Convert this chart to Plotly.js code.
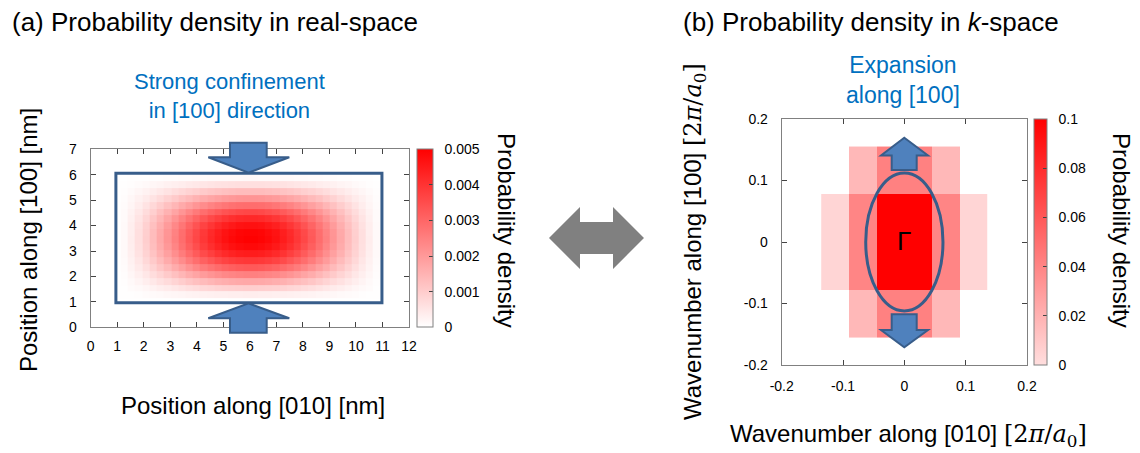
<!DOCTYPE html>
<html>
<head>
<meta charset="utf-8">
<script src="https://cdn.plot.ly/plotly-3.0.1.min.js"></script>
<style>html,body{margin:0;padding:0;background:#fff;}#chart{width:1140px;height:453px;}</style>
</head>
<body>
<div id="chart"></div>
<script>
// ---------- Panel (a): real-space probability density (values in units of 1e-5) ----------
const realX = [1.00,1.27,1.54,1.81,2.09,2.36,2.63,2.90,3.17,3.44,3.72,3.99,4.26,4.53,4.80,5.07,5.34,5.62,5.89,
               6.16,6.43,6.70,6.97,7.24,7.52,7.79,8.06,8.33,8.60,8.87,9.15,9.42,9.69,9.96,10.23,10.50,10.77,11.05];
const realY = [1.00,1.27,1.54,1.81,2.09,2.36,2.63,2.90,3.17,3.44,3.72,3.99,4.26,4.53,4.80,5.07,5.34,5.62,5.89];
const realZ_1e5 = [
 [0,0,0,0,0,0,0,0,0,0,0,0,0,0,0,0,0,0,0,0,0,0,0,0,0,0,0,0,0,0,0,0,0,0,0,0,0,0],
 [0,1,2,4,7,9,12,15,17,20,23,25,27,29,31,32,34,34,35,35,34,34,32,31,29,27,25,23,20,17,15,12,9,7,4,2,1,0],
 [0,2,7,12,18,25,33,40,48,55,62,69,76,81,86,90,93,95,96,96,95,93,90,86,81,76,69,62,55,48,40,33,25,18,12,7,2,0],
 [0,4,12,22,33,45,58,71,85,98,111,123,134,144,152,159,165,168,170,170,168,165,159,152,144,134,123,111,98,85,71,58,45,33,22,12,4,0],
 [0,6,17,32,48,66,85,104,124,143,162,179,196,210,222,233,240,246,249,249,246,240,233,222,210,196,179,162,143,124,104,85,66,48,32,17,6,0],
 [0,8,23,41,62,86,111,136,162,187,212,235,256,275,291,304,314,322,325,325,322,314,304,291,275,256,235,212,187,162,136,111,86,62,41,23,8,0],
 [0,10,27,50,76,104,134,165,196,226,256,284,309,332,352,368,380,389,393,393,389,380,368,352,332,309,284,256,226,196,165,134,104,76,50,27,10,0],
 [0,11,31,57,86,118,152,187,222,257,291,322,352,377,400,418,432,442,446,446,442,432,418,400,377,352,322,291,257,222,187,152,118,86,57,31,11,0],
 [0,12,34,61,93,128,165,202,240,278,314,348,380,408,432,451,466,477,482,482,477,466,451,432,408,380,348,314,278,240,202,165,128,93,61,34,12,0],
 [0,12,35,63,96,132,170,209,249,287,325,360,393,421,446,467,482,493,499,499,493,482,467,446,421,393,360,325,287,249,209,170,132,96,63,35,12,0],
 [0,12,34,63,95,131,168,207,246,284,322,356,389,417,442,462,477,488,493,493,488,477,462,442,417,389,356,322,284,246,207,168,131,95,63,34,12,0],
 [0,12,33,59,90,124,159,196,233,269,304,337,368,394,418,437,451,462,467,467,462,451,437,418,394,368,337,304,269,233,196,159,124,90,59,33,12,0],
 [0,10,29,53,81,112,144,177,210,243,275,304,332,356,377,394,408,417,421,421,417,408,394,377,356,332,304,275,243,210,177,144,112,81,53,29,10,0],
 [0,9,25,46,69,95,123,151,179,208,235,260,284,304,322,337,348,356,360,360,356,348,337,322,304,284,260,235,208,179,151,123,95,69,46,25,9,0],
 [0,7,20,36,55,76,98,121,143,166,187,208,226,243,257,269,278,284,287,287,284,278,269,257,243,226,208,187,166,143,121,98,76,55,36,20,7,0],
 [0,5,15,27,40,55,71,88,104,121,136,151,165,177,187,196,202,207,209,209,207,202,196,187,177,165,151,136,121,104,88,71,55,40,27,15,5,0],
 [0,3,9,17,25,35,45,55,66,76,86,95,104,112,118,124,128,131,132,132,131,128,124,118,112,104,95,86,76,66,55,45,35,25,17,9,3,0],
 [0,2,4,8,12,17,22,27,31,36,41,46,50,53,57,59,61,62,63,63,62,61,59,57,53,50,46,41,36,31,27,22,17,12,8,4,2,0],
 [0,0,1,2,2,3,4,5,6,7,8,9,10,11,11,12,12,12,13,13,12,12,12,11,11,10,9,8,7,6,5,4,3,2,2,1,0,0]
];
const realTicksX = [0,1,2,3,4,5,6,7,8,9,10,11,12];
const realTicksY = [0,1,2,3,4,5,6,7];
const realCbTicks = [0,0.001,0.002,0.003,0.004,0.005];
const realCbText = ['0','0.001','0.002','0.003','0.004','0.005'];

// ---------- Panel (b): k-space probability density ----------
const kX = [-0.113,-0.0679,-0.0226,0.0226,0.0679,0.113];
const kY = [-0.1164,-0.0388,0.0388,0.1164];
const kZ = [
 [null,0.017,0.042,0.042,0.017,null],
 [0.004,0.040,0.100,0.100,0.040,0.004],
 [0.004,0.040,0.100,0.100,0.040,0.004],
 [null,0.017,0.042,0.042,0.017,null]
];
const kTickVals = [-0.2,-0.1,0,0.1,0.2];
const kTickText = ['-0.2','-0.1','0','0.1','0.2'];
const kCbTicks = [0,0.02,0.04,0.06,0.08,0.1];
const kCbText = ['0','0.02','0.04','0.06','0.08','0.1'];

// ---------- helpers ----------
const W = 1140, H = 453;
const px = v => v / W;
const py = v => 1 - v / H;
const FONT = 'Liberation Sans, Arial, sans-serif';
const PAD = '\u00a0\u00a0';
const pathPx = pts => 'M' + pts.map(p => px(p[0]).toFixed(5) + ',' + py(p[1]).toFixed(5)).join(' L') + ' Z';

const realZ = realZ_1e5.map(r => r.map(v => v * 1e-5));

const traces = [
  {
    type: 'heatmap', x: realX, y: realY, z: realZ, xaxis: 'x', yaxis: 'y',
    zmin: 0, zmax: 0.005, zsmooth: false,
    colorscale: [[0, 'rgb(255,255,255)'], [1, 'rgb(255,0,0)']],
    colorbar: {
      x: px(417), xanchor: 'left', xpad: 0, y: py(238.3), yanchor: 'middle', ypad: 0,
      thickness: 16, len: 178, lenmode: 'pixels',
      outlinecolor: '#808080', outlinewidth: 1,
      tickmode: 'array', tickvals: realCbTicks, ticktext: realCbText.map(t => PAD + t),
      ticks: 'inside', ticklen: 4, tickcolor: '#444',
      tickfont: {family: FONT, size: 14, color: '#000'}
    },
    hoverinfo: 'skip'
  },
  {
    type: 'heatmap', x: kX, y: kY, z: kZ, xaxis: 'x2', yaxis: 'y2',
    zmin: 0, zmax: 0.1, zsmooth: false,
    colorscale: [[0, 'rgb(255,222,222)'], [1, 'rgb(255,0,0)']],
    colorbar: {
      x: px(1034), xanchor: 'left', xpad: 0, y: py(242), yanchor: 'middle', ypad: 0,
      thickness: 13, len: 246, lenmode: 'pixels',
      outlinecolor: '#808080', outlinewidth: 1,
      tickmode: 'array', tickvals: kCbTicks, ticktext: kCbText.map(t => PAD + t),
      ticks: 'inside', ticklen: 4, tickcolor: '#444',
      tickfont: {family: FONT, size: 14, color: '#000'}
    },
    hoverinfo: 'skip'
  }
];

const axBase = {
  showgrid: false, zeroline: false, showline: true, linecolor: '#808080', linewidth: 1,
  mirror: 'ticks', ticks: 'inside', ticklen: 5, tickcolor: '#444',
  tickfont: {family: FONT, size: 14, color: '#000'}, fixedrange: true
};

const blueFill = '#4F81BD', blueLine = '#385D8A';

const shapes = [
  {type: 'rect', xref: 'x', yref: 'y', x0: 0.95, x1: 10.98, y0: 0.97, y1: 6.06,
   line: {color: blueLine, width: 3}, fillcolor: 'rgba(0,0,0,0)'},
  {type: 'path', xref: 'paper', yref: 'paper', fillcolor: blueFill, line: {color: blueLine, width: 2},
   path: pathPx([[230,142.7],[266.7,142.7],[266.7,157.3],[289.3,157.3],[248.5,172.7],[208.3,157.3],[230,157.3]])},
  {type: 'path', xref: 'paper', yref: 'paper', fillcolor: blueFill, line: {color: blueLine, width: 2},
   path: pathPx([[248.5,303.3],[289.3,318.3],[266.7,318.3],[266.7,332.7],[230,332.7],[230,318.3],[208.3,318.3]])},
  {type: 'circle', xref: 'x2', yref: 'y2', x0: -0.063, x1: 0.063, y0: -0.112, y1: 0.112,
   line: {color: blueLine, width: 3}, fillcolor: 'rgba(0,0,0,0)'},
  {type: 'path', xref: 'paper', yref: 'paper', fillcolor: blueFill, line: {color: blueLine, width: 2},
   path: pathPx([[904.3,137.7],[928,155.5],[916.7,155.5],[916.7,170],[891.7,170],[891.7,155.5],[881,155.5]])},
  {type: 'path', xref: 'paper', yref: 'paper', fillcolor: blueFill, line: {color: blueLine, width: 2},
   path: pathPx([[891.7,314.3],[916.7,314.3],[916.7,330],[928,330],[904.3,347.3],[881,330],[891.7,330]])},
  {type: 'path', xref: 'paper', yref: 'paper', fillcolor: '#808080', line: {color: '#808080', width: 0},
   path: pathPx([[549,238],[580,207],[580,222],[613,222],[613,207],[644,238],[613,269],[613,254],[580,254],[580,269]])}
];

const math = '<span style="font-family:\'DejaVu Serif\', \'Liberation Serif\', serif">[2<i>π</i>/<i>a</i><sub>0</sub>]</span>';

const ann = (text, x, y, opts) => Object.assign({
  text: text, xref: 'paper', yref: 'paper', x: px(x), y: py(y),
  xanchor: 'center', yanchor: 'middle', showarrow: false,
  font: {family: FONT, size: 24, color: '#000'}
}, opts || {});

const annotations = [
  ann('(a) Probability density in real-space', 10, 22, {xanchor: 'left', font: {family: FONT, size: 26, color: '#000'}}),
  ann('(b) Probability density in <i>k</i>-space', 681, 22, {xanchor: 'left', font: {family: FONT, size: 26, color: '#000'}}),
  ann('Strong confinement<br>in [100] direction', 229.7, 96.5, {font: {family: FONT, size: 22, color: '#0070C0'}}),
  ann('Expansion<br>along [100]', 903, 80, {font: {family: FONT, size: 23, color: '#0070C0'}}),
  ann('Position along [100] [nm]', 28, 240, {textangle: -90}),
  ann('Position along [010] [nm]', 253, 405),
  ann('Probability density', 507, 230, {textangle: 90}),
  ann('Wavenumber along [100] ' + math, 695, 242, {textangle: -90}),
  ann('Wavenumber along [010] ' + math, 908, 435),
  ann('Probability density', 1122, 230, {textangle: 90}),
  ann('Γ', 903.5, 241, {font: {family: FONT, size: 26, color: '#000'}})
];

const layout = {
  width: W, height: H,
  margin: {l: 0, r: 0, t: 0, b: 0},
  paper_bgcolor: '#fff', plot_bgcolor: '#fff',
  showlegend: false,
  xaxis: Object.assign({}, axBase, {domain: [px(90.7), px(409)], range: [0, 12], anchor: 'y',
    tickmode: 'array', tickvals: realTicksX, ticklabelstandoff: 6}),
  yaxis: Object.assign({}, axBase, {domain: [py(327.3), py(149.3)], range: [0, 7], anchor: 'x',
    tickmode: 'array', tickvals: realTicksY, ticklabelstandoff: 10}),
  xaxis2: Object.assign({}, axBase, {domain: [px(781.7), px(1027)], range: [-0.2, 0.2], anchor: 'y2',
    tickmode: 'array', tickvals: kTickVals, ticktext: kTickText, ticklabelstandoff: 8}),
  yaxis2: Object.assign({}, axBase, {domain: [py(365), py(119)], range: [-0.2, 0.2], anchor: 'x2',
    tickmode: 'array', tickvals: kTickVals, ticktext: kTickText, ticklabelstandoff: 10}),
  shapes: shapes,
  annotations: annotations
};

Plotly.newPlot('chart', traces, layout, {displayModeBar: false, staticPlot: true});
</script>
</body>
</html>
